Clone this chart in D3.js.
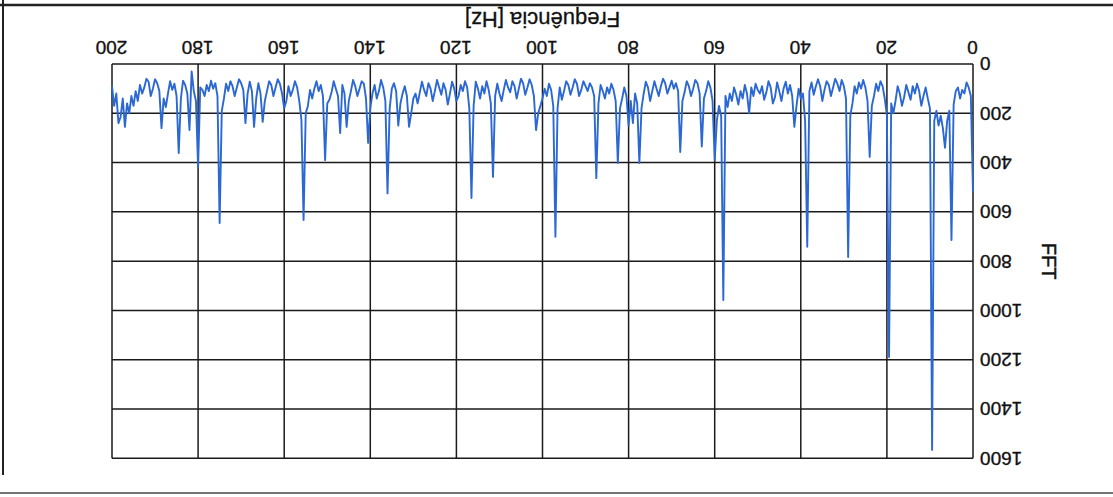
<!DOCTYPE html>
<html>
<head>
<meta charset="utf-8">
<script src="https://cdn.jsdelivr.net/npm/d3@7"></script>
<style>
  html, body { margin: 0; padding: 0; background: #fff; }
  svg { display: block; }
  text { font-family: "Liberation Sans", Arial, sans-serif; fill: #111; }
</style>
</head>
<body>
<svg id="chart" width="1113" height="497"></svg>
<script>
// Frequency axis: 0 .. 200 Hz, sampled every 0.5 Hz
const freqStep = 0.5;
const xTicks = [0, 20, 40, 60, 80, 100, 120, 140, 160, 180, 200];
const yTicks = [0, 200, 400, 600, 800, 1000, 1200, 1400, 1600];

// FFT magnitude, one row per 10 Hz
const fftValues = [
  520, 130, 95, 75, 120, 105, 140, 95, 110, 165, 714, 190, 230, 340, 260, 210, 250, 190, 230, 1566,
  180, 140, 95, 130, 170, 110, 80, 120, 90, 145, 115, 85, 135, 170, 120, 90, 150, 200, 160, 1189,
  210, 140, 90, 70, 110, 80, 130, 170, 377, 150, 95, 65, 100, 75, 120, 90, 160, 210, 783, 140,
  90, 65, 110, 80, 60, 95, 130, 85, 70, 105, 150, 90, 62, 90, 125, 75, 110, 742, 230, 120,
  140, 100, 170, 255, 130, 85, 120, 72, 100, 150, 110, 75, 135, 160, 95, 70, 115, 145, 90, 120,
  105, 80, 130, 95, 200, 120, 85, 140, 110, 165, 125, 95, 150, 120, 175, 130, 958, 210, 170, 230,
  390, 150, 95, 70, 110, 140, 335, 120, 78, 65, 100, 130, 90, 70, 115, 150, 357, 110, 78, 100,
  68, 95, 120, 78, 60, 90, 130, 100, 70, 110, 150, 95, 72, 120, 180, 402, 160, 120, 240, 150,
  250, 130, 95, 140, 180, 402, 150, 105, 80, 120, 95, 140, 110, 85, 160, 463, 130, 95, 78, 110,
  90, 70, 105, 130, 80, 62, 95, 125, 85, 70, 110, 145, 95, 180, 701, 170, 105, 80, 130, 100,
  140, 170, 200, 268, 130, 85, 62, 95, 125, 78, 60, 100, 140, 90, 70, 115, 95, 65, 105, 150,
  120, 80, 130, 458, 160, 105, 70, 120, 90, 140, 100, 72, 170, 544, 180, 95, 70, 110, 85, 130,
  150, 100, 72, 120, 165, 105, 78, 125, 95, 65, 110, 150, 100, 78, 130, 105, 72, 115, 160, 120,
  140, 200, 255, 130, 90, 120, 160, 250, 110, 78, 100, 180, 525, 150, 95, 65, 110, 140, 85, 120,
  180, 320, 140, 80, 70, 100, 130, 90, 65, 110, 150, 255, 120, 85, 280, 130, 100, 70, 115, 145,
  160, 390, 130, 85, 110, 70, 100, 140, 105, 170, 200, 633, 227, 150, 95, 70, 105, 130, 90, 150,
  180, 120, 80, 62, 95, 130, 85, 70, 110, 150, 235, 120, 78, 140, 255, 110, 72, 120, 240, 105,
  78, 62, 95, 130, 90, 70, 110, 80, 140, 190, 645, 130, 78, 100, 68, 110, 85, 130, 105, 95,
  418, 150, 110, 30, 268, 120, 85, 68, 140, 361, 130, 80, 105, 70, 120, 175, 140, 260, 110, 78,
  62, 100, 130, 72, 60, 95, 120, 85, 150, 110, 170, 130, 200, 160, 255, 140, 215, 240, 120, 170,
  90
];

const series = fftValues.map((v, i) => ({ f: i * freqStep, v }));

const svg = d3.select("#chart");
// The whole figure is drawn turned half a revolution
const root = svg.append("g").attr("transform", "rotate(180 556.5 248.5)");

const plot = { left: 140, right: 1001, top: 38.7, bottom: 433 };

const x = d3.scaleLinear().domain([0, 200]).range([plot.left, plot.right]);
const y = d3.scaleLinear().domain([0, 1600]).range([plot.bottom, plot.top]);

// page border
root.append("line").attr("x1", 0).attr("x2", 1113).attr("y1", 492).attr("y2", 492)
  .attr("stroke", "#222").attr("stroke-width", 2.5);
root.append("line").attr("x1", 1110).attr("x2", 1110).attr("y1", 22).attr("y2", 497)
  .attr("stroke", "#222").attr("stroke-width", 2);
root.append("line").attr("x1", 0).attr("x2", 1113).attr("y1", 4).attr("y2", 4)
  .attr("stroke", "#444").attr("stroke-width", 1.5);

// grid
const grid = root.append("g").attr("stroke", "#1a1a1a").attr("stroke-width", 1.5);
grid.selectAll("line.v").data(xTicks).join("line")
  .attr("x1", d => x(d)).attr("x2", d => x(d))
  .attr("y1", plot.top).attr("y2", plot.bottom);
grid.selectAll("line.h").data(yTicks).join("line")
  .attr("x1", plot.left).attr("x2", plot.right)
  .attr("y1", d => y(d)).attr("y2", d => y(d));

// FFT trace
const line = d3.line().x(d => x(d.f)).y(d => y(d.v));
root.append("path").datum(series)
  .attr("d", line)
  .attr("fill", "none")
  .attr("stroke", "#2c68d4")
  .attr("stroke-width", 1.9)
  .attr("stroke-linejoin", "round");

// axes (labels only)
const styleTicks = sel => sel
  .attr("font-size", 19)
  .attr("font-family", "Liberation Sans, Arial, sans-serif")
  .attr("fill", "#111")
  .attr("stroke", "#111")
  .attr("stroke-width", 0.35);

const xAxis = d3.axisBottom(x).tickValues(xTicks).tickSize(0).tickPadding(10).tickFormat(d3.format("d"));
const gx = root.append("g").attr("transform", `translate(0,${plot.bottom})`).call(xAxis);
gx.select(".domain").remove();
styleTicks(gx.selectAll("text"));

const yAxis = d3.axisLeft(y).tickValues(yTicks).tickSize(0).tickPadding(7).tickFormat(d3.format("d"));
const gy = root.append("g").attr("transform", `translate(${plot.left},0)`).call(yAxis);
gy.select(".domain").remove();
styleTicks(gy.selectAll("text"));

// axis titles
root.append("text")
  .attr("x", (plot.left + plot.right) / 2).attr("y", 478)
  .attr("text-anchor", "middle").attr("dominant-baseline", "central")
  .attr("font-size", 22)
  .attr("stroke", "#111").attr("stroke-width", 0.3)
  .text("Frequência [Hz]");

root.append("text")
  .attr("transform", `translate(64,${(plot.top + plot.bottom) / 2}) rotate(-90)`)
  .attr("text-anchor", "middle").attr("dominant-baseline", "central")
  .attr("font-size", 20)
  .attr("stroke", "#111").attr("stroke-width", 0.5)
  .text("FFT");
</script>
</body>
</html>
